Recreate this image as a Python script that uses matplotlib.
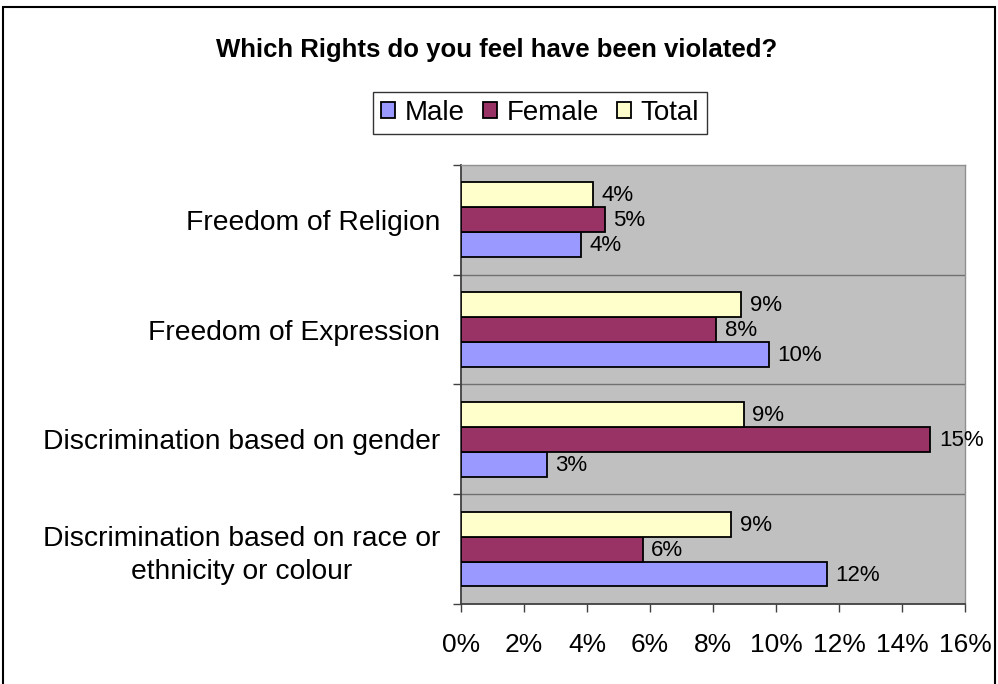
import numpy as np
import matplotlib.pyplot as plt
from matplotlib.patches import Rectangle
from matplotlib.ticker import FuncFormatter

plt.rcParams['font.family'] = ['Liberation Sans', 'DejaVu Sans']

# categories listed bottom to top
categories = ['Discrimination based on race or\nethnicity or colour',
              'Discrimination based on gender',
              'Freedom of Expression',
              'Freedom of Religion']
male = [0.1161, 0.0272, 0.0978, 0.0380]
female = [0.0576, 0.1490, 0.0810, 0.0456]
total = [0.0857, 0.0898, 0.0889, 0.0418]
series = [('Male', male, '#9999FF'),
          ('Female', female, '#993366'),
          ('Total', total, '#FFFFCC')]
xticks = [0, 0.02, 0.04, 0.06, 0.08, 0.10, 0.12, 0.14, 0.16]

fig = plt.figure(figsize=(9.98, 6.84), dpi=100)
ax = fig.add_axes([0.462, 0.117, 0.505, 0.642])
ax.set_facecolor('#C0C0C0')

y = np.arange(len(categories))
h = 0.227
for i, (name, vals, col) in enumerate(series):
    pos = y + (i - 1) * h
    bars = ax.barh(pos, vals, height=h, color=col, edgecolor='black',
                   linewidth=1.3, label=name, zorder=3)
    for b, v in zip(bars, vals):
        ax.text(v + 0.0027, b.get_y() + h / 2 - 0.01, '{:.0%}'.format(v),
                va='center', ha='left', fontsize=16, zorder=4)

ax.set_xlim(0, 0.16)
ax.set_ylim(-0.5, len(categories) - 0.5)
ax.set_xticks(xticks)
ax.xaxis.set_major_formatter(FuncFormatter(lambda v, p: '{:.0f}%'.format(v * 100)))
ax.tick_params(axis='x', direction='out', length=6, width=1, color='#404040',
               labelsize=19, pad=15)

ax.set_yticks(y)
ax.set_yticklabels(categories, fontsize=20.3, multialignment='center',
                   linespacing=1.35)
ax.tick_params(axis='y', which='major', length=0, pad=15)
ax.set_yticks(np.arange(-0.5, len(categories)), minor=True)
ax.tick_params(axis='y', which='minor', direction='out', length=6, width=1,
               color='#404040')
for yy in np.arange(0.5, len(categories) - 0.5):
    ax.axhline(yy, color='#707070', linewidth=1, zorder=1)

for s in ['left', 'bottom']:
    ax.spines[s].set_color('#404040')
    ax.spines[s].set_linewidth(1.3)
for s in ['right', 'top']:
    ax.spines[s].set_color('#909090')
    ax.spines[s].set_linewidth(1)

fig.text(0.498, 0.927, 'Which Rights do you feel have been violated?',
         ha='center', va='center', fontsize=18.5, fontweight='bold')

handles, labels = ax.get_legend_handles_labels()
leg = fig.legend(handles, labels, loc='center', bbox_to_anchor=(0.541, 0.835),
                 ncol=3, fontsize=20, frameon=True, fancybox=False,
                 edgecolor='black', handlelength=0.5, handleheight=0.5,
                 handletextpad=0.35, columnspacing=0.65, borderpad=0.3)
leg.get_frame().set_linewidth(1)

# outer chart border
fig.patches.append(Rectangle((0.003, -0.05), 0.994, 1.04, transform=fig.transFigure,
                             fill=False, edgecolor='black', linewidth=1.5))

fig.savefig('out.png', dpi=100)
